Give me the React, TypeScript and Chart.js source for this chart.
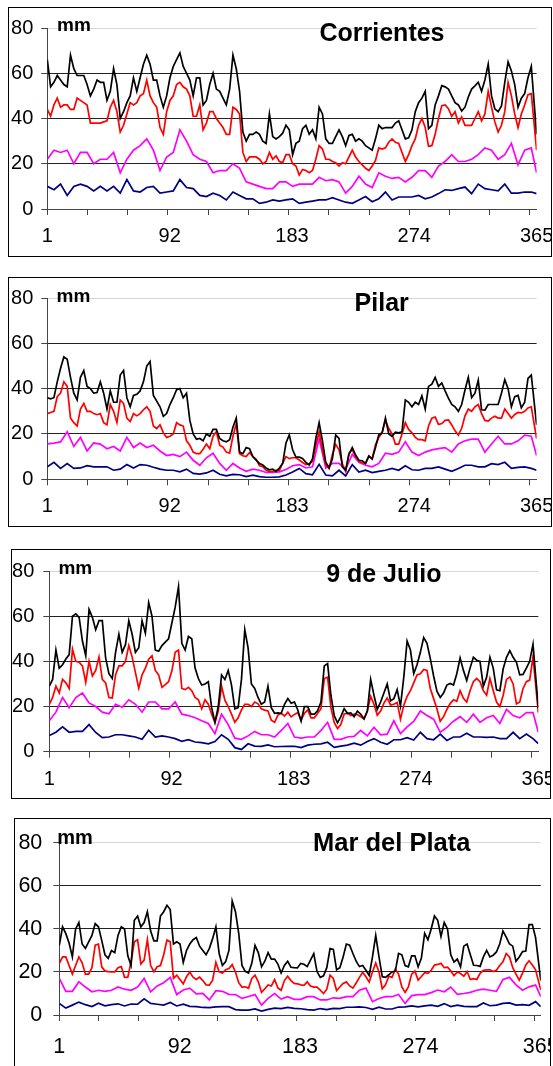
import { useEffect, useRef } from "react";
import { Chart, registerables } from "chart.js";
Chart.register(...registerables);

// ---- data ----
// day positions for the smoother (magenta / navy) series
const DAYS = [1,6,11,16,21,26,31,36,41,46,51,56,61,66,71,76,81,86,91,96,101,106,111,116,121,126,131,136,141,146,151,156,161,166,171,176,181,186,191,196,201,206,211,216,221,226,231,236,241,246,251,256,261,266,271,276,281,286,291,296,301,306,311,316,321,326,331,336,341,346,351,356,361,366,370];
// day positions for the more jagged (black / red) series
const DAYS_FINE = [1,3.5,6,8.5,11,13.5,16,18.5,21,23.5,26,28.5,31,33.5,36,38.5,41,43.5,46,48.5,51,53.5,56,58.5,61,63.5,66,68.5,71,73.5,76,78.5,81,83.5,86,88.5,91,93.5,96,98.5,101,103.5,106,108.5,111,113.5,116,118.5,121,123.5,126,128.5,131,133.5,136,138.5,141,143.5,146,148.5,151,153.5,156,158.5,161,163.5,166,168.5,171,173.5,176,178.5,181,183.5,186,188.5,191,193.5,196,198.5,201,203.5,206,208.5,211,213.5,216,218.5,221,223.5,226,228.5,231,233.5,236,238.5,241,243.5,246,248.5,251,253.5,256,258.5,261,263.5,266,268.5,271,273.5,276,278.5,281,283.5,286,288.5,291,293.5,296,298.5,301,303.5,306,308.5,311,313.5,316,318.5,321,323.5,326,328.5,331,333.5,336,338.5,341,343.5,346,348.5,351,353.5,356,358.5,361,363.5,366,370];
const X_LABELS = ["1", "92", "183", "274", "365"];
const X_LABEL_POS = [1, 93.25, 185.5, 277.75, 370];
const X_TICK_MARKS = [1, 31.33, 61.67, 92, 122.33, 152.67, 183, 213.33, 243.67, 274, 304.33, 334.67, 365];
const Y_TICKS = [0, 20, 40, 60, 80];
const TITLES = ["Corrientes", "Pilar", "9 de Julio", "Mar del Plata"];
const UNIT = "mm";

const CORR_BLACK = [66,54,56,59,57,55,54,68,62,59,59,59,55,50,53,57,56,56,48,52,62,55,40,43,47,50,58,52,58,64,68,64,57,57,50,45,50,58,63,66,69,63,60,57,50,58,58,46,48,55,60,53,52,49,46,53,68,62,52,34,30,33,33,34,33,30,29,42,32,31,32,33.5,37,35,24,29,30,35.5,37,33,35,31,45,42,31,29,29,32,35,32,28,32.5,33,30,31,30,28,27,26,31,37,35.5,36,36,36,38,39,35,31,31.5,35,43,47,49,52,35.5,37,46,50,54.5,54,53,50,47,46,43.3,45,49.5,53,54.4,56,52,57,64,50,44.3,43,45.5,56,65,61,55,45,49,51,58,63,33];
const CORR_RED = [44,41,46,49,45,46,46,44,44,49,48,47,46,38,38,38,38,38.5,39,45,48,43,34,37,42,47,46,47,50,51,57,50,47,45,36,33,43,48,50,55,56,54,53,50,41,41,46,35,38,43,43,40,38,36,33,33,45,44,42,25,21,23,23,23,22,20,21,25,22,23.5,21,20.5,24,24,20,19,15,17.5,17,16,17,22,28,26.5,22,22,21,20.5,19,20.5,20,23,26,23,21,19.5,18,17,19,21.5,27,26.5,27,29.5,31,29.5,29,25,21,24,28,31,37,40,36,27.7,28,33,40,45.7,46,44.3,41,43,38,40.7,37,37,37,40,43,39,42,52,45,38.5,34,37,43,56,50,42,36,42,46,50.5,51,26];
const CORR_MAGENTA = [22,26,25,26,20,25,25,20,22,22,25,16,22,26,28,31,26,17,23,25,35,30,24,22,21,16,17,17,20,18,12,11,10,9,9,12,12,10,11,11,11,14,12.5,13,12,7,10,14.5,11,9.5,16,14.5,13.5,14,12,14,17,17,14,19,21,24,21,21,22,24,27,26,22,24,29,19.5,26,27,16];
const CORR_NAVY = [10,8.5,11,6,10,11,10,8,10,8,10,7,13,8,7.5,9.5,10,7,7.5,8,13,9.5,9,6,5.5,7,6,4,7.5,6,4.5,4.5,2.5,3,4,3.5,4,4.5,2.5,3,3.5,4,4,5,4,3,2.5,4,5.5,3.2,4.5,7.5,4,5.3,5.3,5.3,6,4.5,5.3,6.8,8.5,8.2,9,9.7,6.8,11,9,8.5,8,11,7,7,7.5,7.5,6.8];

const PILAR_BLACK = [36,35.5,36,43,49,54,53,45,38,35,45,48,41,40,38,38.3,43,38,31,39,34,34,46,48,36,32,37,37.5,39,43,50,52,37,34.5,32,27.8,29,33,36,39.5,40,36,38,26,20,17.7,18,17,20,19,22,22,18,17,16.5,17.5,23,27,12,11.3,14,13.5,10,8.5,7,6.3,5,4.2,4.5,3.5,5,7,16,19.6,13,9.8,9.8,9.2,7.5,6.3,9,18,25,17,7.5,5,9,19.5,18,5.5,4,11,14,10.7,8.4,8.2,7,10.2,9,14,19.6,20.5,27,20,19,20.8,20.5,21,35,34,32,34,33,36.8,31,41,42,45,41,42.5,39,35.8,33,32,30,33,39.4,45,36,38,43.7,30.7,30.5,33,33,33,33,38,44,40,32,36.5,37,31.5,34,44.5,46,24];
const PILAR_RED = [29,29.5,30,36.5,38,43,41,27,25,23.5,31,33.5,30,30,29,28.5,29,25,24,33,30,25,35,33.5,27,25.5,29,28,29,30.7,32,30,23.5,22.4,24,20.6,18.5,19,20,25,24,23.5,17,15,12,11.3,11.3,13.2,15.6,13.5,19,21,15,14.2,12,11.5,19,24.5,11.3,10.4,10,11.8,10,8.8,6,5.6,4,3.4,3.5,3.9,3.8,7.2,10,9.1,9.5,9.5,8.5,7.4,6.5,6.8,8,15,21,13,6.5,4.8,11,15.4,13,6.8,3.5,11.5,13,10,8,7.3,7,10.3,9,15.2,18.5,20.5,26,22.4,20,15.5,15.5,20,25,22,20.5,18.5,17.5,17.5,17,23.5,27,27.5,24.2,24.6,26,26.2,24,21.4,19.5,22.5,28,31,30,32,33,29,26,25.7,27,27.8,27,27,31,29,27,28.6,29.5,29.3,30,31.5,32,18];
const PILAR_MAGENTA = [15.6,16,16.5,21,14.5,18.5,12.5,16,15.5,13.5,14.5,12.5,18.5,14,16,14,15,12.5,10.5,11,10,12,8.4,6.2,9.5,11.5,7,4,7,5,3.5,4.5,4,3,3,3.3,4.3,6,6.5,5,5.5,18,5,7,7,4.5,11,7.5,6.2,5.5,7,11.5,11,12,16.5,12,10.5,12,13,13.5,14,12,15.6,17,17.7,17.7,12,15.6,19,15.6,15.6,17,19.5,19,10.5];
const PILAR_NAVY = [5.5,7.5,4.8,6.9,4.8,5,6,5.5,5.5,5.5,4,4.5,6.5,5,6.5,6.2,5.3,4.5,4,4,3.3,4.5,2.6,2.3,2.8,4,2.2,1.5,2.2,2,1.2,1.8,1.2,0.9,0.9,1.1,1.9,3.2,4.8,2.5,2,6.6,1.9,1.5,4,1.5,6.5,3.2,4,3,3.5,4,4.8,4,6,4.2,4,4.8,4.8,5.5,4.5,3.5,4.8,6.2,6.2,5.5,5.5,6.9,6.5,7.5,4.8,5.3,5.5,4.8,4];

const JULIO_BLACK = [29,32,45,37,38.5,41,43,60,61,59.5,49,42.5,63,59.5,54,58,58,41.5,34.5,32.4,44,52,44,47.5,58,52,44,46,58,52.5,66,60,45,44.5,47,48.5,50,57,64,73,48,45,51,50,37,32.4,29.5,30,31,19.5,13,20,34,32,36,29.5,19,19.5,32,54,46,30,28,24,21,22,29,19.5,17,17.2,17,21,23.5,21.5,22,18.5,13.5,20,20,16.6,16.6,18.2,22,38,39,25,16,12.8,15.5,19,17,17.2,15.5,18,16.6,14.6,18,32,25,18.7,22,26,30,22.5,23.5,27.5,20.2,33,49,45,34.6,38.5,44,50.5,48,41.2,33.5,26.8,24,26,29.5,30.2,29.5,34.5,41.5,36,31.5,37,41.8,40.5,40,29,33,41.8,37,27.4,27,36.7,41.8,44.7,41.8,39.6,34,34.2,37,40,47.6,19.5];
const JULIO_RED = [21,24,29,26,32,30.5,28,45.4,40,39.6,38,30.7,40,33.5,36,42,32,30.5,24,23.8,34,38,38,40,47,42,35,28.1,34,37,41,42.5,36,34,28.5,29.7,31,35.8,44,45,28,27.5,28.5,27,24,23,19,23,21,16.6,13,18,29,22.8,20,16.6,13,15,18.5,21,21,20,22,21.2,19,18.4,18,14,13,16.2,17,15.8,17.5,15.4,16.5,17.3,14,17,18.5,15,15,17,19,32.4,33,19.5,13,10.3,12,16.7,17,16,16.6,16.4,15.5,14.4,18,24.5,21,16.2,18,21.5,23.8,20.7,21,21.8,14.4,20.6,24.5,27,30.5,34,34.5,36.4,36,28,23.5,19,13.5,15.5,18.7,21.3,23,22.3,27,23.6,22,27,31,32.4,31,27,25,32.4,27,22,20,25,32,33.1,30,21.2,22,28,31,31.7,42,17.3];
const JULIO_MAGENTA = [13.7,17.5,24,19.5,24,26,21.6,20,17.5,16.8,21,19.7,23,21,17.5,22,22,19,19,22,16.6,16,15,13.7,12.5,8,16.6,12,6,5.5,7,9,7.5,7.5,6.5,9.4,12.5,6.5,6,6.5,6.5,9.4,13,5.5,5.5,6.5,6.8,9.4,7,10.8,7.5,7.8,13.7,8,11,13.4,18,16,14.4,8.6,10.8,13.5,15.5,13,16.6,13,15,16,12.5,18.7,16,15,17.3,17.3,8.6];
const JULIO_NAVY = [7.2,8.6,11,8.6,9,9,12,8.5,6.2,6.5,7.5,7.5,7,6.5,5.5,9.5,6.5,7,6.5,5.8,4.6,5.3,4.3,4,3.5,4.5,7.5,5.5,1.8,1,3.5,2.5,2.4,3,2.2,2.3,2.4,2.4,1.8,2.9,3.3,3.5,4.2,1.9,2.5,2.9,3.8,2.9,4.5,5.8,4.2,3.3,5.3,5.3,6.2,5.2,8.6,5.8,5.3,7.8,5,6.5,6.5,8.2,6.5,6.5,6.3,6.5,5.8,5.8,8.6,5.8,7.8,5.8,3.6];

const MDP_BLACK = [32.4,41,37.8,33.5,27,40,43,33,31,34,37,42.5,41,34.7,28,26.3,30,29,37,41,40,27.5,23,44,46,41,43,48,39,34.5,34.5,46,48,51,49,33,34,33,24.5,30,33,35,36,32,30,28,31,35.5,41,28.6,23,24.8,30,53,48,38,23,20.3,19.5,24,32.4,29,22.4,25,29,26,26,23.7,19.5,23,25,22.2,22,21.9,24,23.6,22.5,25.5,28.5,20.2,17.5,18.2,22,30.9,30.5,21,22,27,33,32.5,28.6,25,22.5,23,20.8,18.4,27,37,27,17.8,17.5,18.7,20,20.4,28.6,28,23,22.4,27.5,27.5,22.4,26.5,38,35,40,46,44,36.5,43,40,28,24.6,26,22.4,32,33,28,23.1,23,22.6,27,30,27,27.8,29.3,33,39,36.2,33,32,25,27,29.5,29.7,42,42,36,16];
const MDP_RED = [24,27,27,23,19,23,27,24.3,19,19,22,32.5,33,22.4,20.5,20.2,20,20,22,22.5,17.5,17.6,24.7,34,35,23.7,25.5,35,23,20.1,22.4,23,28,34.8,34,17,18.5,16.5,14.5,17.8,20,17.6,16.5,17.6,16,14,13.9,16.2,24.5,20.1,19.5,21,21.6,23.4,20,15,13,13.1,12.4,17,18.5,15.4,10.5,12.2,14,13.5,16.5,12.6,11.5,16,18,16,14.7,14.5,14,13.8,15.4,13.5,13,13,11.6,10,12,18.5,17,11.4,13,14.7,15.4,13.5,12.5,14.9,17.5,19.9,17.8,15.3,20,24.2,20,12.2,14,18,17.5,21.3,19,13,10.5,13.1,19,20.4,16.2,17.9,19.7,19.4,20.8,23.2,23.5,24,22,22.2,20.5,18.3,20,19.3,18,20.2,16.5,16.9,16.5,19.4,20.8,21,21,20.2,20.8,23,24.7,28.6,27,22,19,16.2,19.5,23.3,25.2,23.2,21,11.6];
const MDP_MAGENTA = [17,11,11,15.5,13,10.8,11.5,11,11.5,13,12,11.5,13,17,10.8,13.5,15,17.5,9.5,11.6,12.5,9.8,10,7,11.3,11,9.6,9.5,7.7,8.6,9.5,4.6,7.7,10,7.4,8.5,7.3,7.3,8.5,8.5,7,7,8,7.7,8.5,8.5,11.5,12.5,6.2,7.7,8.5,8.5,9.5,5.4,9,9.5,9.5,10.4,11.6,10.8,13,9.6,10,10.5,11.5,12,11.5,11,16.5,17.5,14,11.5,13.1,13.9,8.5];
const MDP_NAVY = [5.4,3.2,4.6,6,4.8,3.9,5.5,4.3,4.8,5.2,4.2,5.1,5,7.5,5.4,5,4.6,5.8,4.2,5,4,3.9,3.5,3.4,3.8,3.9,3.9,2.5,2.3,2.3,2.8,1.8,2.6,3.2,3,3.5,3.1,2.9,2.5,2.3,3,2.5,3.1,3,3.6,3.6,3.8,3.5,2.6,3.6,2.8,2.8,3.7,3.8,4.2,3.8,4.2,4.6,4,5.3,3.9,4.6,4,3.9,3.9,5.6,4.3,4.6,5.4,5.6,4.6,4.8,4.5,6.2,3.9];

const SERIES_COLORS = ["#000000", "#ff0000", "#ff00ff", "#000080"];
const FONT = "'Liberation Sans', Arial, Helvetica, sans-serif";

// ---- layout (page coordinates) ----
type Geo = {
  box: { l: number; t: number; w: number; h: number };
  plot: { l: number; t: number; r: number; b: number };
  xLabelY: number; yFont: number; xFont: number; yPad: number;
  title: { x: number; y: number; size: number };
  mm: { x: number; y: number; size: number };
};
type Series = { days: number[]; values: number[] };

const PANELS: { series: Series[]; title: string; geo: Geo }[] = [
  {
    title: TITLES[0],
    series: [
      { days: DAYS_FINE, values: CORR_BLACK },
      { days: DAYS_FINE, values: CORR_RED },
      { days: DAYS, values: CORR_MAGENTA },
      { days: DAYS, values: CORR_NAVY },
    ],
    geo: {
      box: { l: 8, t: 7, w: 544, h: 250 },
      plot: { l: 47.3, t: 24.3, r: 536.6, b: 209 },
      xLabelY: 236.7, yFont: 20, xFont: 20, yPad: 8,
      title: { x: 382, y: 31.7, size: 25 },
      mm: { x: 74, y: 24.3, size: 19 },
    },
  },
  {
    title: TITLES[1],
    series: [
      { days: DAYS_FINE, values: PILAR_BLACK },
      { days: DAYS_FINE, values: PILAR_RED },
      { days: DAYS, values: PILAR_MAGENTA },
      { days: DAYS, values: PILAR_NAVY },
    ],
    geo: {
      box: { l: 8, t: 277, w: 544, h: 250 },
      plot: { l: 47.3, t: 294.3, r: 536.6, b: 479.3 },
      xLabelY: 506.7, yFont: 20, xFont: 20, yPad: 8,
      title: { x: 381.7, y: 301.7, size: 25 },
      mm: { x: 73.5, y: 295, size: 19 },
    },
  },
  {
    title: TITLES[2],
    series: [
      { days: DAYS_FINE, values: JULIO_BLACK },
      { days: DAYS_FINE, values: JULIO_RED },
      { days: DAYS, values: JULIO_MAGENTA },
      { days: DAYS, values: JULIO_NAVY },
    ],
    geo: {
      box: { l: 11, t: 549, w: 540, h: 250 },
      plot: { l: 49.3, t: 566.7, r: 538.3, b: 751.7 },
      xLabelY: 779.3, yFont: 20, xFont: 20, yPad: 9,
      title: { x: 383.8, y: 573.3, size: 25 },
      mm: { x: 75.3, y: 567.3, size: 19 },
    },
  },
  {
    title: TITLES[3],
    series: [
      { days: DAYS_FINE, values: MDP_BLACK },
      { days: DAYS_FINE, values: MDP_RED },
      { days: DAYS, values: MDP_MAGENTA },
      { days: DAYS, values: MDP_NAVY },
    ],
    geo: {
      box: { l: 14, t: 818, w: 537, h: 262 },
      plot: { l: 59.3, t: 842.3, r: 540.8, b: 1015 },
      xLabelY: 1047.3, yFont: 21.5, xFont: 21.5, yPad: 11,
      title: { x: 391.7, y: 843.3, size: 25.5 },
      mm: { x: 75, y: 836.7, size: 20 },
    },
  },
];

const xLabelPlugin = {
  id: "xLabels",
  afterDraw(chart: any, _args: any, opts: any) {
    const { ctx } = chart;
    const sx = chart.scales.x;
    ctx.save();
    ctx.font = `${opts.size}px ${FONT}`;
    ctx.fillStyle = "#000";
    ctx.textAlign = "center";
    ctx.textBaseline = "middle";
    X_LABEL_POS.forEach((d, i) => ctx.fillText(X_LABELS[i], sx.getPixelForValue(d), opts.y));
    ctx.restore();
  },
};

function Panel({ series, geo }: { series: Series[]; geo: Geo }) {
  const ref = useRef<HTMLCanvasElement | null>(null);
  const W = geo.box.w - 2;
  const H = geo.box.h - 2;
  const ox = geo.box.l + 1;
  const oy = geo.box.t + 1;
  useEffect(() => {
    if (!ref.current) return;
    const cl = geo.plot.l - ox;
    const ct = geo.plot.t - oy;
    const cr = geo.plot.r - ox;
    const cb = geo.plot.b - oy;
    const chart = new Chart(ref.current, {
      type: "line",
      data: {
        datasets: series.map((s, i) => ({
          data: s.days.map((d, j) => ({ x: d, y: s.values[j] })),
          borderColor: SERIES_COLORS[i],
          borderWidth: 1.7,
          pointRadius: 0,
          tension: 0,
          fill: false,
        })),
      },
      options: {
        responsive: false,
        maintainAspectRatio: false,
        animation: false,
        events: [],
        layout: { padding: { left: 0, top: ct, right: W - cr, bottom: 0 } },
        plugins: {
          legend: { display: false },
          tooltip: { enabled: false },
          xLabels: { size: geo.xFont, y: geo.xLabelY - oy },
        } as any,
        scales: {
          x: {
            type: "linear",
            min: 1,
            max: 370,
            afterBuildTicks: (s: any) => {
              s.ticks = X_TICK_MARKS.map((v) => ({ value: v }));
            },
            afterFit: (s: any) => {
              s.height = H - cb;
              s.paddingLeft = 0;
              s.paddingRight = 0;
            },
            ticks: { display: false, autoSkip: false },
            grid: { drawOnChartArea: false, drawTicks: true, tickLength: 6, tickColor: "#444", lineWidth: 1 },
            border: { display: true, color: "#444", width: 1 },
          },
          y: {
            min: 0,
            max: 80,
            afterBuildTicks: (s: any) => {
              s.ticks = Y_TICKS.map((v) => ({ value: v }));
            },
            afterFit: (s: any) => {
              s.width = cl;
            },
            ticks: {
              color: "#000",
              padding: geo.yPad,
              font: { family: FONT, size: geo.yFont },
            },
            grid: {
              color: (c: any) => (c.tick && c.tick.value === 80 ? "#d6d6d6" : c.tick && c.tick.value === 0 ? "#444" : "#222"),
              tickColor: "#444",
              tickLength: 6,
              lineWidth: 1,
            },
            border: { display: true, color: "#444", width: 1 },
          },
        },
      } as any,
      plugins: [xLabelPlugin as any],
    });
    return () => chart.destroy();
  }, []);
  return (
    <div
      style={{
        position: "absolute",
        left: geo.box.l,
        top: geo.box.t,
        width: geo.box.w,
        height: geo.box.h,
        border: "1px solid #000",
        boxSizing: "border-box",
        background: "#fff",
      }}
    >
      <canvas ref={ref} width={W} height={H} style={{ display: "block", width: W, height: H }} />
    </div>
  );
}

function Label({ x, y, size, text }: { x: number; y: number; size: number; text: string }) {
  return (
    <div
      style={{
        position: "absolute",
        left: x,
        top: y,
        transform: "translate(-50%, -50%)",
        fontFamily: FONT,
        fontWeight: "bold",
        fontSize: size,
        lineHeight: 1,
        whiteSpace: "nowrap",
        color: "#000",
      }}
    >
      {text}
    </div>
  );
}

export default function App() {
  return (
    <div
      style={{
        position: "absolute",
        left: 0,
        top: 0,
        width: 553,
        height: 1066,
        overflow: "hidden",
        background: "#fff",
      }}
    >
      {PANELS.map((p, i) => (
        <Panel key={i} series={p.series} geo={p.geo} />
      ))}
      {PANELS.map((p, i) => (
        <Label key={"t" + i} x={p.geo.title.x} y={p.geo.title.y} size={p.geo.title.size} text={p.title} />
      ))}
      {PANELS.map((p, i) => (
        <Label key={"m" + i} x={p.geo.mm.x} y={p.geo.mm.y} size={p.geo.mm.size} text={UNIT} />
      ))}
    </div>
  );
}
